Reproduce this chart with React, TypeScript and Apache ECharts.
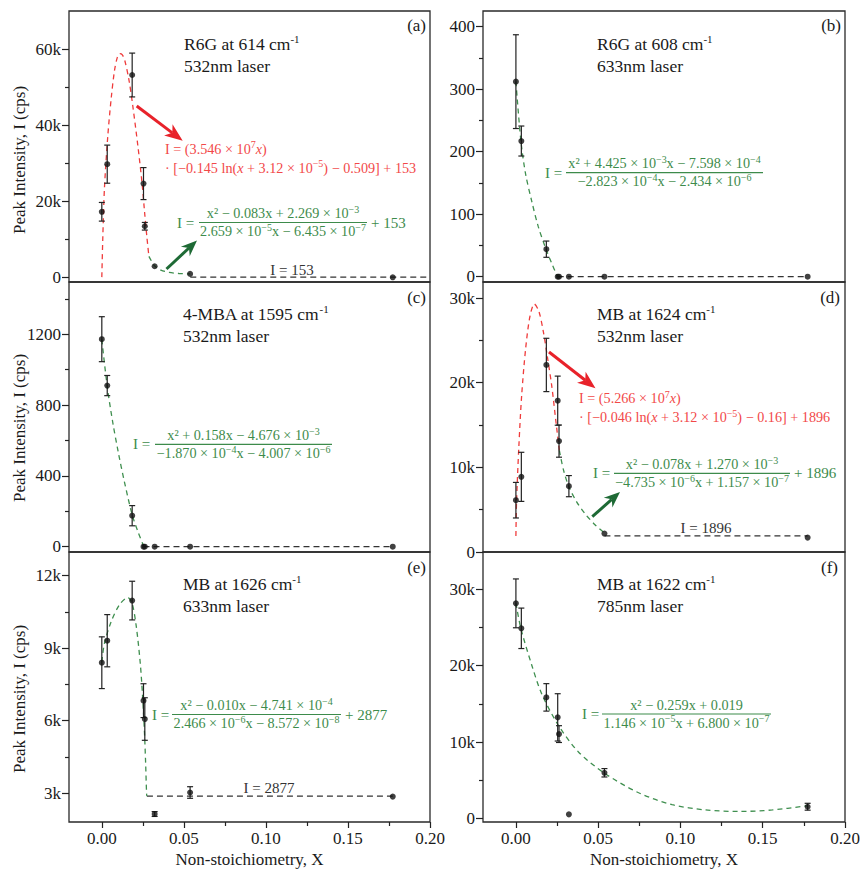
import React, { useEffect, useRef } from 'react';
import * as echarts from 'echarts';

const FONT = "'Liberation Serif', 'Times New Roman', serif";
const INK = '#1a1a1a';
const RED = '#ef3b3b';
const RED_TEXT = '#f24848';
const RED_ARROW = '#e8222a';
const GREEN = '#3f8f4f';
const GREEN_TEXT = '#3d8b4b';
const GREEN_ARROW = '#1e6a35';
const BASE_COLOR = '#333333';
const EQ_SIZE = 14.2;

// ---------- shared x data ----------
const X_VALUES = [0, 0.0033, 0.0185, 0.0254, 0.0262, 0.0322, 0.0538, 0.1773];
const X_RANGE = [-0.02, 0.2];
const X_TICKS = [0, 0.05, 0.1, 0.15, 0.2];
const X_TICK_LABELS = ['0.00', '0.05', '0.10', '0.15', '0.20'];
const X_MINOR_TICKS = [0.025, 0.075, 0.125, 0.175];

// ---------- (a) R6G 614, 532nm ----------
const A_I = [17300, 29800, 53200, 24700, 13500, 3000, 1000, 100];
const A_ERR = [2450, 5000, 5750, 4200, 1000, 0, 0, 0];
const A_FIT_RED = [[0, 153], [0.0006, 10500], [0.0016, 23500], [0.0037, 37500], [0.0057, 47000], [0.0077, 54300], [0.0095, 57900], [0.011, 58800], [0.0125, 58500], [0.014, 57000], [0.0165, 52000], [0.0189, 45000], [0.022, 34500], [0.0246, 24500], [0.026, 17500], [0.0275, 10500], [0.0287, 5600]];
const A_FIT_GREEN = [[0.0287, 5600], [0.0322, 3100], [0.036, 2000], [0.041, 1400], [0.047, 1100], [0.0539, 1000]];
const A_BASE = [[0.0539, 153], [0.2, 153]];
const A_Y_RANGE = [-1130, 70000];
const A_Y_TICKS = [0, 20000, 40000, 60000];
const A_Y_LABELS = ['0', '20k', '40k', '60k'];
const A_Y_MINOR = [10000, 30000, 50000];

// ---------- (b) R6G 608, 633nm ----------
const B_I = [312, 217, 44, 0, 0, 0, 0, 0];
const B_ERR = [75, 24, 13, 0, 0, 0, 0, 0];
const B_FIT_GREEN = [[0, 312], [0.003, 218], [0.0059, 164], [0.0096, 121], [0.0136, 80], [0.0183, 44], [0.0218, 21], [0.0248, 3], [0.0254, 0]];
const B_BASE = [[0.0254, 0], [0.1773, 0]];
const B_Y_RANGE = [-8.5, 425];
const B_Y_TICKS = [0, 100, 200, 300, 400];
const B_Y_LABELS = ['0', '100', '200', '300', '400'];
const B_Y_MINOR = [50, 150, 250, 350];

// ---------- (c) 4-MBA 1595, 532nm ----------
const C_I = [1172, 910, 175, 0, 0, 0, 0, 0];
const C_ERR = [127, 57, 57, 0, 0, 0, 0, 0];
const C_FIT_GREEN = [[0, 1170], [0.0033, 905], [0.0067, 700], [0.01, 535], [0.0138, 365], [0.0185, 180], [0.022, 85], [0.0254, 5]];
const C_BASE = [[0.0254, 0], [0.1773, 0]];
const C_Y_RANGE = [-30, 1495];
const C_Y_TICKS = [0, 400, 800, 1200];
const C_Y_LABELS = ['0', '400', '800', '1200'];
const C_Y_MINOR = [200, 600, 1000, 1400];

// ---------- (d) MB 1624, 532nm ----------
const D_I = [6120, 8880, 22100, 17880, 13100, 7780, 2180, 1700];
const D_ERR = [2100, 2900, 3150, 2900, 1900, 1250, 0, 0];
const D_FIT_RED = [[0, 1896], [0.0004, 6000], [0.0018, 12500], [0.0035, 18500], [0.0059, 24000], [0.0085, 27800], [0.0112, 29300], [0.014, 28400], [0.0167, 26000], [0.0191, 23100], [0.0218, 19600], [0.0242, 15600], [0.0264, 12000]];
const D_FIT_GREEN = [[0.0264, 12000], [0.0289, 9700], [0.0322, 7700], [0.037, 5900], [0.0421, 4500], [0.0482, 3200], [0.0538, 2250]];
const D_BASE = [[0.0538, 1896], [0.1773, 1896]];
const D_Y_RANGE = [0, 31900];
const D_Y_TICKS = [0, 10000, 20000, 30000];
const D_Y_LABELS = ['0', '10k', '20k', '30k'];
const D_Y_MINOR = [5000, 15000, 25000];

// ---------- (e) MB 1626, 633nm ----------
const E_I = [8400, 9310, 10970, 6830, 6070, 2140, 3030, 2860];
const E_ERR = [1070, 1080, 800, 700, 880, 100, 240, 0];
const E_FIT_GREEN = [[0, 8440], [0.0016, 9200], [0.0057, 10100], [0.0108, 10800], [0.0159, 11100], [0.0185, 10850], [0.021, 9900], [0.0234, 8400], [0.0249, 6950], [0.026, 5500], [0.0267, 4250], [0.0273, 2950], [0.0275, 2877]];
const E_BASE = [[0.0275, 2877], [0.1773, 2877]];
const E_Y_RANGE = [1810, 12980];
const E_Y_TICKS = [3000, 6000, 9000, 12000];
const E_Y_LABELS = ['3k', '6k', '9k', '12k'];
const E_Y_MINOR = [4500, 7500, 10500];

// ---------- (f) MB 1622, 785nm ----------
const F_I = [28170, 24900, 15850, 13230, 11040, 520, 5970, 1520];
const F_ERR = [3200, 2650, 1800, 3100, 1100, 0, 550, 450];
const F_FIT_GREEN = [[0, 28200], [0.003, 24900], [0.0096, 20100], [0.0157, 16300], [0.0258, 12200], [0.038, 8700], [0.0539, 5900], [0.0746, 3350], [0.0949, 1800], [0.1152, 1100], [0.1356, 900], [0.1559, 1100], [0.1773, 1650]];
const F_Y_RANGE = [-480, 34900];
const F_Y_TICKS = [0, 10000, 20000, 30000];
const F_Y_LABELS = ['0', '10k', '20k', '30k'];
const F_Y_MINOR = [5000, 15000, 25000];

const PANELS = [
  { I: A_I, err: A_ERR, red: A_FIT_RED, green: A_FIT_GREEN, base: A_BASE, yr: A_Y_RANGE, yt: A_Y_TICKS, yl: A_Y_LABELS, ym: A_Y_MINOR },
  { I: B_I, err: B_ERR, red: null, green: B_FIT_GREEN, base: B_BASE, yr: B_Y_RANGE, yt: B_Y_TICKS, yl: B_Y_LABELS, ym: B_Y_MINOR },
  { I: C_I, err: C_ERR, red: null, green: C_FIT_GREEN, base: C_BASE, yr: C_Y_RANGE, yt: C_Y_TICKS, yl: C_Y_LABELS, ym: C_Y_MINOR },
  { I: D_I, err: D_ERR, red: D_FIT_RED, green: D_FIT_GREEN, base: D_BASE, yr: D_Y_RANGE, yt: D_Y_TICKS, yl: D_Y_LABELS, ym: D_Y_MINOR },
  { I: E_I, err: E_ERR, red: null, green: E_FIT_GREEN, base: E_BASE, yr: E_Y_RANGE, yt: E_Y_TICKS, yl: E_Y_LABELS, ym: E_Y_MINOR },
  { I: F_I, err: F_ERR, red: null, green: F_FIT_GREEN, base: null, yr: F_Y_RANGE, yt: F_Y_TICKS, yl: F_Y_LABELS, ym: F_Y_MINOR },
];

const GRIDS = [
  { left: 69, top: 11, width: 361, height: 271 },
  { left: 483, top: 11, width: 362, height: 271 },
  { left: 69, top: 282, width: 361, height: 270 },
  { left: 483, top: 282, width: 362, height: 270 },
  { left: 69, top: 552, width: 361, height: 270 },
  { left: 483, top: 552, width: 362, height: 270 },
];

const labelFor = (ticks: number[], labels: string[]) => (v: number) => {
  const k = ticks.findIndex((t) => Math.abs(t - v) <= 1e-9 * Math.max(1, Math.abs(t)));
  return k >= 0 ? labels[k] : '';
};

const tickLine = { color: '#222', width: 1.2 };

// markup: ^{..} superscript, ~{..} italic
function seg(k: string, t: string) {
  return t.split('\n').map((p) => (p ? `{${k}|${p}}` : '')).join('\n');
}
function richify(s: string) {
  let out = '';
  const re = /(\^\{[^}]*\}|~\{[^}]*\})/g;
  let last = 0;
  let m: RegExpExecArray | null;
  while ((m = re.exec(s))) {
    if (m.index > last) out += seg('n', s.slice(last, m.index));
    out += seg(m[0][0] === '^' ? 's' : 'i', m[0].slice(2, -1));
    last = m.index + m[0].length;
  }
  if (last < s.length) out += seg('n', s.slice(last));
  return out;
}
function richStyles(size: number, color: string, lh: number, supSize: number, supLH: number) {
  return {
    n: { fontSize: size, fontFamily: FONT, fill: color, lineHeight: lh },
    i: { fontSize: size, fontFamily: FONT, fill: color, fontStyle: 'italic', lineHeight: lh },
    s: { fontSize: supSize, fontFamily: FONT, fill: color, lineHeight: supLH, verticalAlign: 'top' },
  };
}

function txt(x: number, y: number, text: string, o: any = {}) {
  const align = o.align || 'left';
  const va = o.va || 'middle';
  const size = o.size || EQ_SIZE;
  const color = o.color || INK;
  const style: any = {
    text,
    fontSize: size,
    fontFamily: FONT,
    fill: color,
    align,
    verticalAlign: va,
    textAlign: align,
    textVerticalAlign: va,
  };
  if (o.lh) style.lineHeight = o.lh;
  if (o.math) {
    style.text = richify(text);
    style.rich = richStyles(size, color, o.lh || size + 3, o.supSize || Math.round(size * 0.68), o.supLH || Math.round(size * 0.72));
  }
  return { type: 'text', x, y, rotation: o.rot || 0, z: 100, silent: true, style };
}

function fraction(lhsX: number, x1: number, x2: number, y: number, num: string, den: string, color: string, suffix?: string) {
  const cx = (x1 + x2) / 2;
  const els: any[] = [
    txt(lhsX, y, 'I =', { color, size: 15 }),
    txt(cx, y - 9.5, num, { color, align: 'center', math: true }),
    { type: 'line', z: 100, silent: true, shape: { x1, y1: y, x2, y2: y }, style: { stroke: color, lineWidth: 1.2 } },
    txt(cx, y + 8.5, den, { color, align: 'center', math: true }),
  ];
  if (suffix) els.push(txt(x2 + 4, y, suffix, { color, size: 15 }));
  return els;
}

function arrow(x1: number, y1: number, x2: number, y2: number, color: string, head = 18, hw = 7) {
  const dx = x2 - x1, dy = y2 - y1, L = Math.hypot(dx, dy);
  const ux = dx / L, uy = dy / L, px = -uy, py = ux;
  const bx = x2 - ux * head, by = y2 - uy * head;
  const nx = x2 - ux * (head - 5), ny = y2 - uy * (head - 5);
  return [
    { type: 'line', z: 100, silent: true, shape: { x1, y1, x2: nx, y2: ny }, style: { stroke: color, lineWidth: 3 } },
    { type: 'polygon', z: 100, silent: true, shape: { points: [[x2, y2], [bx + px * hw, by + py * hw], [nx, ny], [bx - px * hw, by - py * hw]] }, style: { fill: color } },
  ];
}

function buildOption() {
  const xAxis: any[] = [];
  const yAxis: any[] = [];
  const series: any[] = [];

  PANELS.forEach((p, i) => {
    const bottom = i >= 4;
    const common = { gridIndex: i, splitLine: { show: false }, axisLine: { show: false, onZero: false } };
    xAxis.push({
      ...common, type: 'value', position: 'bottom', min: X_RANGE[0], max: X_RANGE[1],
      axisTick: { show: bottom, length: 6, customValues: X_TICKS, lineStyle: tickLine },
      axisLabel: { show: bottom, customValues: X_TICKS, formatter: labelFor(X_TICKS, X_TICK_LABELS), margin: 8, fontSize: 17, fontFamily: FONT, color: INK },
      name: bottom ? 'Non-stoichiometry, X' : '', nameLocation: 'middle', nameGap: 29,
      nameTextStyle: { fontSize: 17, fontFamily: FONT, color: INK },
    });
    xAxis.push({
      ...common, type: 'value', position: 'bottom', min: X_RANGE[0], max: X_RANGE[1],
      axisTick: { show: bottom, length: 4, customValues: X_MINOR_TICKS, lineStyle: tickLine },
      axisLabel: { show: false },
    });
    yAxis.push({
      ...common, type: 'value', position: 'left', min: p.yr[0], max: p.yr[1],
      axisTick: { show: true, length: 7, customValues: p.yt, lineStyle: tickLine },
      axisLabel: { show: true, customValues: p.yt, formatter: labelFor(p.yt, p.yl), margin: 8, fontSize: 17, fontFamily: FONT, color: INK },
    });
    yAxis.push({
      ...common, type: 'value', position: 'left', min: p.yr[0], max: p.yr[1],
      axisTick: { show: true, length: 4, customValues: p.ym, lineStyle: tickLine },
      axisLabel: { show: false },
    });

    const xi = 2 * i, yi = 2 * i;
    if (p.base) {
      series.push({ type: 'line', xAxisIndex: xi, yAxisIndex: yi, data: p.base, symbol: 'none', z: 2, silent: true,
        lineStyle: { color: BASE_COLOR, width: 1.3, type: [6, 4] } });
    }
    if (p.red) {
      series.push({ type: 'line', xAxisIndex: xi, yAxisIndex: yi, data: p.red, symbol: 'none', smooth: 0.3, z: 2, silent: true,
        lineStyle: { color: RED, width: 1.3, type: [5, 4] } });
    }
    if (p.green) {
      series.push({ type: 'line', xAxisIndex: xi, yAxisIndex: yi, data: p.green, symbol: 'none', smooth: 0.3, z: 2, silent: true,
        lineStyle: { color: GREEN, width: 1.3, type: [5, 4] } });
    }
    series.push({
      type: 'custom', xAxisIndex: xi, yAxisIndex: yi, z: 4, silent: true,
      data: X_VALUES.map((x, j) => [x, p.I[j], p.err[j]]),
      encode: { x: 0, y: 1 },
      renderItem: (params: any, api: any) => {
        const x = api.value(0), y = api.value(1), e = api.value(2);
        if (!e) return { type: 'group', children: [] };
        const top = api.coord([x, y + e]);
        const bot = api.coord([x, y - e]);
        const st = { stroke: '#222', lineWidth: 1.2 };
        const hw = 3;
        return {
          type: 'group',
          children: [
            { type: 'line', shape: { x1: top[0], y1: top[1], x2: bot[0], y2: bot[1] }, style: st },
            { type: 'line', shape: { x1: top[0] - hw, y1: top[1], x2: top[0] + hw, y2: top[1] }, style: st },
            { type: 'line', shape: { x1: bot[0] - hw, y1: bot[1], x2: bot[0] + hw, y2: bot[1] }, style: st },
          ],
        };
      },
    });
    series.push({
      type: 'scatter', xAxisIndex: xi, yAxisIndex: yi, z: 5, silent: true,
      data: X_VALUES.map((x, j) => [x, p.I[j]]),
      symbol: 'circle', symbolSize: 6, itemStyle: { color: '#111' },
    });
  });

  const g: any[] = [];
  // y axis titles
  [160, 428, 699].forEach((cy) => g.push(txt(19, cy, 'Peak Intensity, I (cps)', { size: 17, align: 'center', rot: Math.PI / 2 })));
  // panel titles
  const titles: [number, number, string][] = [
    [184, 55, 'R6G at 614 cm^{-1}\n532nm laser'],
    [597, 55, 'R6G at 608 cm^{-1}\n633nm laser'],
    [183, 325, '4-MBA at 1595 cm^{-1}\n532nm laser'],
    [597, 325, 'MB at 1624 cm^{-1}\n532nm laser'],
    [183, 595, 'MB at 1626 cm^{-1}\n633nm laser'],
    [597, 595, 'MB at 1622 cm^{-1}\n785nm laser'],
  ];
  titles.forEach(([x, y, t]) => g.push(txt(x, y, t, { size: 17.5, lh: 21.5, math: true, supSize: 11, supLH: 13 })));
  // panel letters
  const letters: [number, number, string][] = [
    [426, 25, '(a)'], [841, 25, '(b)'], [426, 297, '(c)'], [840, 297, '(d)'], [426, 567, '(e)'], [838, 567, '(f)'],
  ];
  letters.forEach(([x, y, t]) => g.push(txt(x, y, t, { size: 17, align: 'right' })));

  // equations (red)
  g.push(txt(165, 148.5, 'I = (3.546 × 10^{7}~{x})', { color: RED_TEXT, math: true }));
  g.push(txt(165, 167.5, '· [−0.145 ln(~{x} + 3.12 × 10^{−5}) − 0.509] + 153', { color: RED_TEXT, math: true }));
  g.push(txt(579, 398.3, 'I = (5.266 × 10^{7}~{x})', { color: RED_TEXT, math: true }));
  g.push(txt(579, 416.7, '· [−0.046 ln(~{x} + 3.12 × 10^{−5}) − 0.16] + 1896', { color: RED_TEXT, math: true }));
  // equations (green)
  g.push(...fraction(177, 199, 367, 222.5, 'x² − 0.083x + 2.269 × 10^{−3}', '2.659 × 10^{−5}x − 6.435 × 10^{−7}', GREEN_TEXT, '+ 153'));
  g.push(...fraction(545, 566, 763, 172.7, 'x² + 4.425 × 10^{−3}x − 7.598 × 10^{−4}', '−2.823 × 10^{−4}x − 2.434 × 10^{−6}', GREEN_TEXT));
  g.push(...fraction(133, 155, 332, 444.3, 'x² + 0.158x − 4.676 × 10^{−3}', '−1.870 × 10^{−4}x − 4.007 × 10^{−6}', GREEN_TEXT));
  g.push(...fraction(593, 614, 790, 473.3, 'x² − 0.078x + 1.270 × 10^{−3}', '−4.735 × 10^{−6}x + 1.157 × 10^{−7}', GREEN_TEXT, '+ 1896'));
  g.push(...fraction(152, 172, 341, 714.5, 'x² − 0.010x − 4.741 × 10^{−4}', '2.466 × 10^{−6}x − 8.572 × 10^{−8}', GREEN_TEXT, '+ 2877'));
  g.push(...fraction(582, 602, 771, 714, 'x² − 0.259x + 0.019', '1.146 × 10^{−5}x + 6.800 × 10^{−7}', GREEN_TEXT));

  // baseline labels
  g.push(txt(292, 270, 'I = 153', { align: 'center', color: BASE_COLOR, size: 15 }));
  g.push(txt(706, 528, 'I = 1896', { align: 'center', color: BASE_COLOR, size: 15 }));
  g.push(txt(269, 788, 'I = 2877', { align: 'center', color: BASE_COLOR, size: 15 }));

  // arrows
  g.push(...arrow(136.7, 106, 182.7, 140.7, RED_ARROW));
  g.push(...arrow(166.5, 269, 197, 240.5, GREEN_ARROW, 16, 6.5));
  g.push(...arrow(549, 352, 595.5, 388.3, RED_ARROW));
  g.push(...arrow(592.3, 516.7, 620, 492, GREEN_ARROW, 16, 6.5));

  return {
    animation: false,
    backgroundColor: '#ffffff',
    grid: GRIDS.map((gr) => ({ ...gr, show: true, borderColor: '#2a2a2a', borderWidth: 1.3, backgroundColor: 'transparent', containLabel: false, outerBoundsMode: 'none' })),
    xAxis,
    yAxis,
    series,
    graphic: { elements: g },
  };
}

export default function App() {
  const ref = useRef<HTMLDivElement>(null);
  useEffect(() => {
    if (!ref.current) return;
    const chart = echarts.init(ref.current, null, { renderer: 'svg' });
    chart.setOption(buildOption() as any);
    return () => chart.dispose();
  }, []);
  return (
    <div
      ref={ref}
      style={{ position: 'absolute', left: 0, top: 0, width: 860, height: 870, background: '#ffffff' }}
    />
  );
}
